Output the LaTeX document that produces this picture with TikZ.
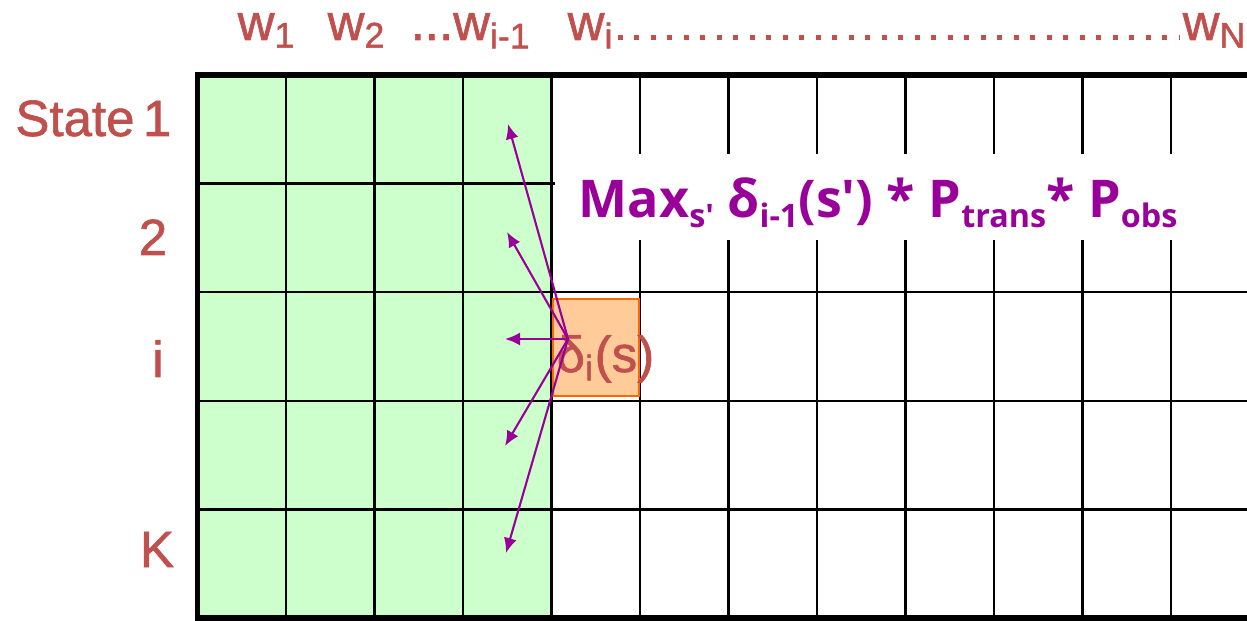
\documentclass[tikz,border=0pt]{standalone}
\usepackage{fontspec}
\setmainfont{Liberation Sans}
\newfontfamily\labfont{Liberation Sans}[FakeBold=1.2]
\newfontfamily\formfont{Open Sans}
\usetikzlibrary{arrows.meta,calc}
\definecolor{cLabel}{HTML}{C0504D}
\definecolor{cDone}{HTML}{CCFFCC}
\definecolor{cCellFill}{HTML}{FFCC99}
\definecolor{cCellDraw}{HTML}{FF6600}
\definecolor{cMax}{HTML}{990099}
\newcommand{\maxsub}[1]{\raisebox{-2.8pt}{\fontsize{9.2}{10}\selectfont #1}}
\tikzset{
  lab/.style={text=cLabel,font=\labfont\fontsize{14.5}{17}\selectfont,inner sep=0pt},
  gridline/.style={line width=0.7pt,black},
  frame/.style={line width=1.7pt,black},
  curcell/.style={fill=cCellFill,draw=cCellDraw,line width=0.8pt},
  arr/.style={cMax,line width=0.6pt,-{Latex[length=1.5mm,width=1.3mm]}},
  dotrow/.style={cLabel,line width=0.5mm,dash pattern=on 0.5mm off 1.15mm},
  form/.style={text=cMax,font=\formfont\bfseries\fontsize{14.8}{18}\selectfont,inner sep=0pt}}
\begin{document}
\begin{tikzpicture}[x=0.1mm,y=-0.1mm]
\useasboundingbox (0,0) rectangle (1247,621);
\clip (0,0) rectangle (1247,621);
\fill[cDone] (197.5,75) rectangle (551.5,618);
\foreach \r in {1,...,4}
  \draw[gridline] (197.5,75+108.6*\r) -- (1250,75+108.6*\r);
\foreach \c in {1,...,12}
  \draw[gridline] (197.5+88.5*\c,75) -- (197.5+88.5*\c,618);
\fill[white] (555,154) rectangle (1250,240);
\draw[curcell] (553,299) rectangle (639,396);
\draw[frame] (1250,75) -- (197.5,75) -- (197.5,618) -- (1250,618);

\node[lab,anchor=base west] (w1) at (237,40) {w\textsubscript{1}};
\node[lab,anchor=base west] (w2) at (327,40) {w\textsubscript{2}};
\node[lab,anchor=base west] (wprev) at (410,40) {...w\textsubscript{i-1}};
\node[lab,anchor=base west] (wi) at (567,40) {w\textsubscript{i}};
\node[lab,anchor=base west] (wN) at (1182,40) {w\textsubscript{N}};
\draw[dotrow] ($(wi.base east)+(3,-2.5)$) -- ($(wN.base west)+(-2,-2.5)$);

\node[lab,anchor=base east] (s1) at (172,136) {State\,1};
\node[lab,anchor=base] (s2) at (153,255) {2};
\node[lab,anchor=base] (si) at (158,377) {i};
\node[lab,anchor=base] (sK) at (157,567) {K};

\node[form,anchor=base west] (maxrule) at (578,218)
  {Max\maxsub{s'} δ\maxsub{i-1}(s') * P\maxsub{trans}* P\maxsub{obs}};
\node[lab,anchor=base west] (delta) at (556,372) {δ\textsubscript{i}(s)};

\coordinate (src) at (568,339);
\coordinate (t1) at (508,124);
\coordinate (t2) at (507,232);
\coordinate (ti) at (505,339);
\coordinate (t4) at (505,446);
\coordinate (tK) at (506,553);
\foreach \t in {t1,t2,ti,t4,tK}
  \draw[arr] (src) -- (\t);
\end{tikzpicture}
\end{document}
